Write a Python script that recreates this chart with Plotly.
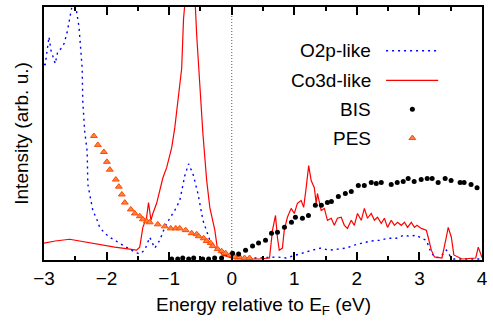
import plotly.graph_objects as go

# O2p-like (blue dotted)
o2p_x = [-3.0, -2.98, -2.92, -2.89, -2.82, -2.78, -2.73, -2.68, -2.63, -2.59, -2.54, -2.49, -2.44, -2.39,
         -2.38, -2.35, -2.31, -2.30, -2.25, -2.22, -2.15, -2.11, -2.03, -1.95, -1.87, -1.79, -1.71, -1.63,
         -1.55, -1.47, -1.39, -1.31, -1.26, -1.23, -1.15, -1.07, -0.99, -0.91, -0.83, -0.75, -0.69, -0.62,
         -0.54, -0.46, -0.35, -0.23, -0.11, 0.05, 0.44, 0.72, 0.87, 1.03, 1.15, 1.29, 1.42, 1.56, 1.70,
         1.83, 1.96, 2.09, 2.22, 2.36, 2.50, 2.63, 2.75, 2.84, 2.95, 3.03, 3.11, 3.19, 3.27, 3.35, 3.43,
         3.49, 3.55, 4.0]
o2p_y = [77.3, 77.3, 88.2, 83.0, 77.6, 82.4, 83.5, 85.5, 90.0, 96.0, 102.0, 100.0, 92.0, 75.7,
         62.7, 51.0, 43.0, 30.0, 23.5, 19.6, 15.7, 12.9, 10.6, 9.0, 7.8, 6.7, 5.5, 4.3,
         3.1, 2.4, 3.9, 9.0, 5.9, 4.7, 7.8, 12.9, 16.5, 19.6, 23.5, 33.3, 38.0, 34.1,
         26.3, 15.7, 7.8, 3.9, 2.0, 0.8, 0.8, 1.2, 0.8, 2.0, 3.1, 3.9, 4.7, 3.9, 4.3,
         4.7, 5.9, 6.7, 7.5, 7.8, 8.6, 8.6, 9.8, 9.4, 9.8, 8.6, 7.8, 2.7, 0.8, 1.6, 3.9,
         1.6, 0.4, 0.4]

# Co3d-like (red solid)
co3d_x = [-3.0, -2.82, -2.59, -2.35, -2.11, -1.87, -1.63, -1.52, -1.47, -1.42, -1.36, -1.33, -1.29,
          -1.26, -1.20, -1.15, -1.10, -1.04, -0.96, -0.91, -0.86, -0.80, -0.77, -0.70, -0.59, -0.56,
          -0.51, -0.46, -0.40, -0.35, -0.27, -0.23, -0.15, 0.05, 0.44, 0.604, 0.652, 0.70, 0.73, 0.76,
          0.81, 0.84, 0.89, 0.95, 1.00, 1.05, 1.11, 1.15, 1.19, 1.23, 1.27, 1.32, 1.35, 1.37, 1.43,
          1.48, 1.53, 1.59, 1.64, 1.69, 1.75, 1.80, 1.85, 1.91, 1.96, 2.01, 2.07, 2.12, 2.17, 2.23,
          2.28, 2.33, 2.39, 2.44, 2.49, 2.55, 2.60, 2.65, 2.71, 2.76, 2.81, 2.87, 2.92, 2.96, 3.03,
          3.11, 3.14, 3.19, 3.24, 3.36, 3.43, 3.46, 3.51, 3.55, 3.68, 3.90, 3.94, 3.98, 4.0]
co3d_y = [6.7, 7.5, 8.2, 7.1, 5.9, 5.1, 4.3, 3.9, 5.1, 12.9, 16.9, 22.7, 15.7,
          18.4, 22.4, 27.5, 32.5, 36.5, 44.3, 52.2, 62.7, 75.7, 95.3, 115.0, 105.0, 89.0,
          69.4, 49.8, 31.4, 20.8, 11.8, 4.7, 2.0, 0.4, 0.4, 0.8, 11.8, 17.6, 9.0, 3.9,
          4.7, 11.8, 16.9, 20.4, 18.4, 22.4, 23.5, 20.8, 28.6, 37.3, 31.4, 28.6, 22.4, 26.3, 19.6,
          20.4, 15.7, 16.5, 13.7, 16.5, 16.9, 13.7, 12.5, 15.7, 13.7, 18.4, 15.7, 20.4, 16.5, 18.4,
          15.7, 16.9, 14.5, 16.5, 12.9, 15.7, 13.7, 14.9, 13.7, 14.9, 12.9, 14.9, 12.9, 13.7, 12.5,
          11.8, 9.0, 3.9, 1.2, 0.8, 9.0, 12.9, 9.0, 2.0, 0.4, 0.8, 5.1, 2.0, 1.0]

# BIS (black dots)
bis_x = [-0.959, -0.863, -0.783, -0.688, -0.608, -0.464, -0.369, -0.273, -0.162, 0.014, 0.110, 0.221,
         0.333, 0.429, 0.540, 0.636, 0.731, 0.843, 0.955, 1.018, 1.130, 1.226, 1.337, 1.433, 1.529,
         1.593, 1.704, 1.816, 1.911, 2.023, 2.119, 2.230, 2.310, 2.390, 2.549, 2.645, 2.741, 2.820,
         2.916, 3.028, 3.124, 3.203, 3.299, 3.411, 3.506, 3.650, 3.714, 3.825, 3.921]
bis_y = [0.4, 0.4, 0.8, 0.4, 0.8, 0.4, 0.4, 0.8, 0.8, 2.7, 2.4, 3.9,
         5.5, 6.7, 7.8, 10.6, 11.0, 12.9, 14.9, 16.9, 16.5, 17.6, 21.6, 21.6, 22.7,
         23.1, 25.1, 26.3, 27.1, 29.4, 29.4, 30.6, 30.2, 30.6, 29.8, 30.6, 31.0, 32.2,
         31.0, 31.8, 32.2, 32.2, 30.6, 32.2, 31.4, 30.6, 30.6, 29.8, 28.6]

# PES (orange triangles)
pes_x = [-2.203, -2.139, -2.043, -1.995, -1.948, -1.852, -1.804, -1.756, -1.708, -1.613, -1.549,
         -1.469, -1.421, -1.357, -1.310, -1.182, -1.070, -0.975, -0.895, -0.831, -0.736, -0.640,
         -0.560, -0.528, -0.449, -0.401, -0.337, -0.305, -0.225, -0.162, -0.098, -0.018, 0.046,
         0.125, 0.205, 0.285]
pes_y = [49.0, 45.5, 42.7, 38.8, 35.7, 31.8, 29.0, 25.9, 22.7, 20.0, 18.4,
         17.3, 16.1, 15.3, 14.9, 14.1, 13.3, 12.5, 12.5, 12.5, 11.8, 10.6,
         10.2, 9.4, 8.6, 7.5, 6.7, 5.5, 4.3, 3.5, 2.7, 2.0, 1.2,
         1.2, 0.8, 0.8]

x_ticks = [-3, -2, -1, 0, 1, 2, 3, 4]
x_range = [-3, 4]
y_range = [0, 100]

legend_names = ["O2p-like", "Co3d-like", "BIS", "PES"]

FONT = "Liberation Sans, Arial, Helvetica, sans-serif"
FS = 19
BLUE = "#0000ff"
RED = "#ff0000"
ORANGE = "#ff6a1f"

fig = go.Figure()
fig.add_trace(go.Scatter(x=o2p_x, y=o2p_y, mode="lines",
                         line=dict(color=BLUE, width=1.4, dash="2px,4px"), showlegend=False))
fig.add_trace(go.Scatter(x=co3d_x, y=co3d_y, mode="lines",
                         line=dict(color=RED, width=1.2), showlegend=False))
fig.add_trace(go.Scatter(x=pes_x, y=pes_y, mode="markers", cliponaxis=False,
                         marker=dict(symbol="triangle-up", size=6, color="#ff8040",
                                     line=dict(color="#ff4a00", width=1)), showlegend=False))
fig.add_trace(go.Scatter(x=bis_x, y=bis_y, mode="markers", cliponaxis=False,
                         marker=dict(symbol="circle", size=5, color="black"), showlegend=False))

# vertical dotted line at E_F
fig.add_trace(go.Scatter(x=[0, 0], y=y_range, mode="lines",
                         line=dict(color="#777777", width=1.2, dash="1px,2px"), showlegend=False))

# custom legend samples on overlay axes (fractions of plot area)
leg_y = [0.827, 0.710, 0.596, 0.482]
fig.add_trace(go.Scatter(x=[0.781, 0.900], y=[leg_y[0]] * 2, xaxis="x2", yaxis="y2", mode="lines",
                         line=dict(color=BLUE, width=1.4, dash="2px,4px"), showlegend=False))
fig.add_trace(go.Scatter(x=[0.781, 0.900], y=[leg_y[1]] * 2, xaxis="x2", yaxis="y2", mode="lines",
                         line=dict(color=RED, width=1.2), showlegend=False))
fig.add_trace(go.Scatter(x=[0.841], y=[leg_y[2]], xaxis="x2", yaxis="y2", mode="markers",
                         marker=dict(symbol="circle", size=5, color="black"), showlegend=False))
fig.add_trace(go.Scatter(x=[0.841], y=[leg_y[3]], xaxis="x2", yaxis="y2", mode="markers",
                         marker=dict(symbol="triangle-up", size=6, color="#ff8040",
                                     line=dict(color="#ff4a00", width=1)), showlegend=False))

annotations = []
for name, yy in zip(legend_names, leg_y):
    annotations.append(dict(x=0.752, y=yy, xref="paper", yref="paper", text=name, showarrow=False,
                            xanchor="right", yanchor="middle", font=dict(family=FONT, size=FS, color="black")))
annotations.append(dict(x=0.5, y=-0.18, xref="paper", yref="paper",
                        text="Energy relative to E<sub>F</sub> (eV)", showarrow=False,
                        xanchor="center", yanchor="middle", font=dict(family=FONT, size=FS, color="black")))
annotations.append(dict(x=-0.052, y=0.5, xref="paper", yref="paper", text="Intensity (arb. u.)",
                        showarrow=False, textangle=-90, xanchor="center", yanchor="middle",
                        font=dict(family=FONT, size=FS, color="black")))

fig.update_layout(
    width=493, height=322,
    margin=dict(l=44, r=10, t=5, b=62),
    paper_bgcolor="white", plot_bgcolor="white",
    font=dict(family=FONT, size=FS, color="black"),
    showlegend=False,
    annotations=annotations,
    xaxis=dict(range=x_range, tickvals=x_ticks, ticks="inside", ticklen=8, tickwidth=1.5,
               tickcolor="black", showline=True, linecolor="black", linewidth=1.5, mirror="allticks",
               showgrid=False, zeroline=False, tickfont=dict(family=FONT, size=FS),
               minor=dict(dtick=0.5, tick0=0, ticks="inside", ticklen=4, tickwidth=1.5, tickcolor="black",
                          showgrid=False)),
    yaxis=dict(range=y_range, showticklabels=False, ticks="", showline=True, linecolor="black",
               linewidth=1.5, mirror=True, showgrid=False, zeroline=False),
    xaxis2=dict(range=[0, 1], overlaying="x", anchor="y2", visible=False),
    yaxis2=dict(range=[0, 1], overlaying="y", anchor="x2", visible=False),
)

fig.write_html("out.html")
